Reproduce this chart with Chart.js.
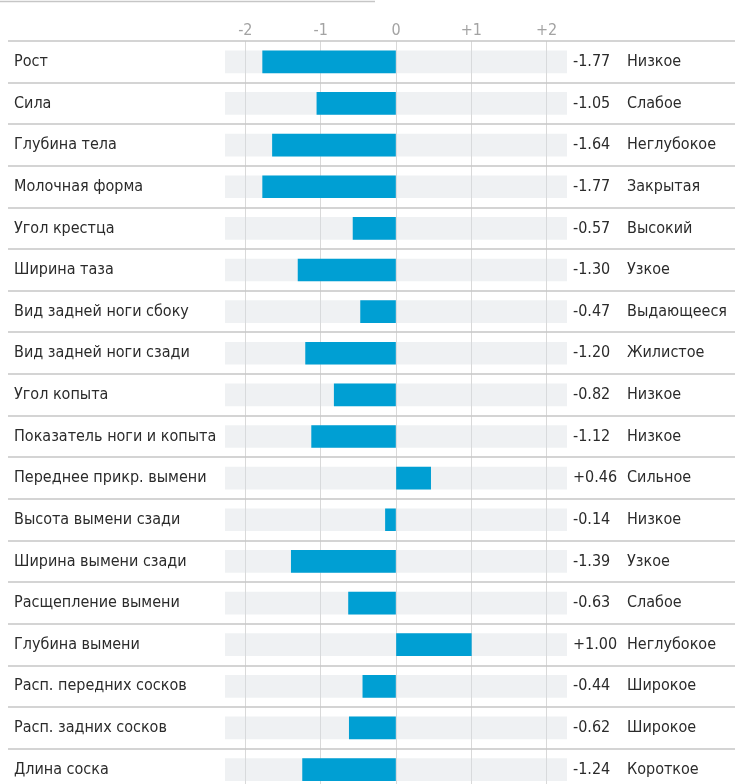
<!DOCTYPE html>
<html>
<head>
<meta charset="utf-8">
<script src="https://cdn.jsdelivr.net/npm/chart.js@4"></script>
<style>
  html, body { margin: 0; padding: 0; background: #fff; overflow: hidden; }
  #frame { width: 735px; height: 784px; overflow: hidden; position: relative; }
  #traitsChart { position: absolute; left: 0; top: 0; }
</style>
</head>
<body>
<div id="frame"><canvas id="traitsChart" width="735" height="800"></canvas></div>
<script>
const traits = ['Рост', 'Сила', 'Глубина тела', 'Молочная форма', 'Угол крестца', 'Ширина таза',
  'Вид задней ноги сбоку', 'Вид задней ноги сзади', 'Угол копыта', 'Показатель ноги и копыта',
  'Переднее прикр. вымени', 'Высота вымени сзади', 'Ширина вымени сзади', 'Расщепление вымени',
  'Глубина вымени', 'Расп. передних сосков', 'Расп. задних сосков', 'Длина соска']
const scores = [-1.77, -1.05, -1.64, -1.77, -0.57, -1.30, -0.47, -1.20, -0.82, -1.12,
  0.46, -0.14, -1.39, -0.63, 1.00, -0.44, -0.62, -1.24]
const descriptors = ['Низкое', 'Слабое', 'Неглубокое', 'Закрытая', 'Высокий', 'Узкое',
  'Выдающееся', 'Жилистое', 'Низкое', 'Низкое', 'Сильное', 'Низкое', 'Узкое', 'Слабое',
  'Неглубокое', 'Широкое', 'Широкое', 'Короткое']
const tickValues = [-2, -1, 0, 1, 2]

const AXIS_MIN = -2.27
const AXIS_MAX = 2.27
const FONT = "'DejaVu Sans Condensed', 'Liberation Sans Narrow', sans-serif"

const fmt = v => (v > 0 ? '+' : '') + v.toFixed(2)

// row separators, right-hand value/descriptor columns, top rule
const rowDecor = {
  id: 'rowDecor',
  afterDatasetsDraw (chart) {
    const { ctx, scales: { x, y } } = chart
    const rowH = y.height / traits.length
    ctx.save()
    ctx.strokeStyle = '#c6c6c6'
    ctx.lineWidth = 1.5
    for (let k = 0; k <= traits.length; k++) {
      const py = Math.round(y.top + k * rowH)
      ctx.beginPath()
      ctx.moveTo(8, py)
      ctx.lineTo(chart.width, py)
      ctx.stroke()
    }
    ctx.beginPath()
    ctx.moveTo(0, 1.5)
    ctx.lineTo(375, 1.5)
    ctx.stroke()

    ctx.fillStyle = '#2b2b2b'
    ctx.font = '16px ' + FONT
    ctx.textBaseline = 'middle'
    ctx.textAlign = 'left'
    traits.forEach((t, i) => {
      const py = y.getPixelForValue(i)
      ctx.fillText(fmt(scores[i]), x.right + 6, py)
      ctx.fillText(descriptors[i], x.right + 60, py)
    })
    ctx.restore()
  }
}

new Chart('traitsChart', {
  type: 'bar',
  data: {
    labels: traits,
    datasets: [{
      data: scores,
      backgroundColor: '#009fd3',
      barThickness: 22,
      grouped: false,
      order: 1
    }, {
      data: traits.map(() => [AXIS_MIN, AXIS_MAX]),
      backgroundColor: 'rgba(215, 219, 226, 0.4)',
      barThickness: 22,
      grouped: false,
      order: 2
    }]
  },
  options: {
    indexAxis: 'y',
    responsive: false,
    animation: false,
    // canvas is taller than the frame: the last row is cut off like in the original crop
    layout: { padding: { left: 14, right: 168, top: 0, bottom: 2 } },
    plugins: { legend: { display: false }, tooltip: { enabled: false } },
    scales: {
      x: {
        position: 'top',
        min: AXIS_MIN,
        max: AXIS_MAX,
        afterBuildTicks: scale => { scale.ticks = tickValues.map(value => ({ value })) },
        afterFit: scale => { scale.height = 41 },
        grid: { color: '#d9d9d9', lineWidth: 1, drawTicks: false },
        border: { display: false },
        ticks: {
          color: '#a3a3a3',
          padding: 1,
          font: { family: FONT, size: 16 },
          callback: v => (v > 0 ? '+' + v : String(v))
        }
      },
      y: {
        grid: { display: false },
        border: { display: false },
        afterFit: scale => { scale.width = 211 },
        ticks: {
          crossAlign: 'far',
          padding: 0,
          color: '#2b2b2b',
          font: { family: FONT, size: 16 }
        }
      }
    }
  },
  plugins: [rowDecor]
})
</script>
</body>
</html>
